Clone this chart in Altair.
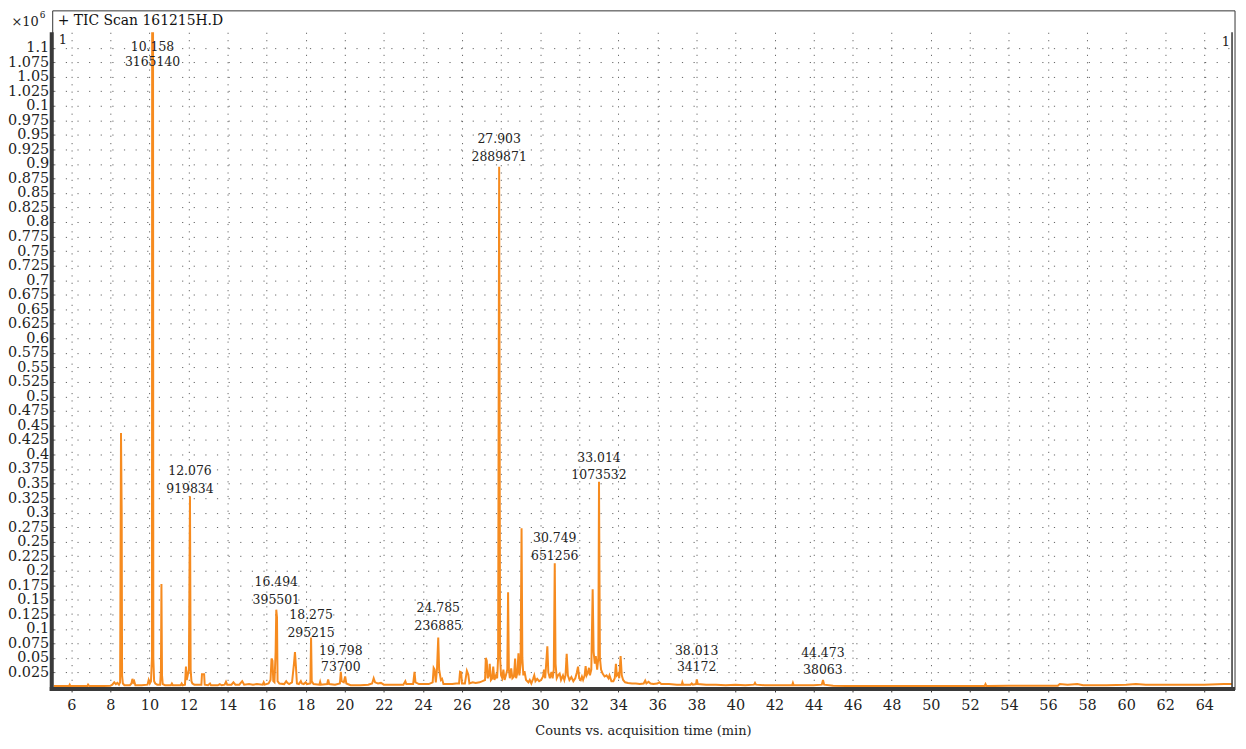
import altair as alt
import pandas as pd

# ---- chromatogram trace (acquisition time in min, counts in x10^6) ----
times = [5.10, 5.50, 5.88, 5.92, 5.96, 6.30, 6.82, 6.86, 6.92, 7.50, 8.00, 8.10, 8.20, 8.28, 8.36, 8.44,
         8.50, 8.545, 8.58, 8.60, 8.64, 8.72, 9.00, 9.08, 9.13, 9.18, 9.22, 9.28, 9.60, 9.90, 9.96, 10.02,
         10.08, 10.13, 10.158, 10.20, 10.24, 10.30, 10.40, 10.55, 10.59, 10.615, 10.645, 10.68, 10.80,
         11.10, 11.15, 11.20, 11.60, 11.65, 11.70, 11.82, 11.87, 11.91, 11.96, 12.02, 12.076, 12.11, 12.15,
         12.20, 12.30, 12.66, 12.69, 12.80, 12.83, 13.00, 13.10, 13.15, 13.50, 13.60, 13.70, 13.85, 13.92,
         13.98, 14.20, 14.30, 14.40, 14.60, 14.75, 14.85, 15.10, 15.30, 15.50, 15.80, 15.85, 15.90, 16.10,
         16.20, 16.25, 16.30, 16.34, 16.40, 16.46, 16.494, 16.53, 16.56, 16.65, 16.90, 17.00, 17.06, 17.15,
         17.30, 17.40, 17.45, 17.50, 17.55, 17.65, 17.75, 17.80, 17.90, 18.00, 18.06, 18.24, 18.275, 18.31,
         18.40, 18.70, 18.74, 18.78, 19.10, 19.15, 19.20, 19.50, 19.75, 19.798, 19.84, 19.95, 20.02, 20.08,
         20.30, 20.80, 21.20, 21.40, 21.48, 21.55, 21.70, 21.85, 22.00, 22.50, 23.00, 23.10, 23.15, 23.50,
         23.57, 23.62, 23.80, 24.30, 24.50, 24.55, 24.60, 24.66, 24.72, 24.785, 24.83, 24.92, 24.98, 25.05,
         25.50, 25.70, 25.85, 25.90, 25.96, 26.00, 26.15, 26.25, 26.32, 26.38, 26.55, 26.70, 26.90, 27.05,
         27.18, 27.22, 27.27, 27.31, 27.38, 27.42, 27.48, 27.55, 27.60, 27.66, 27.74, 27.80, 27.85, 27.903,
         27.95, 28.00, 28.06, 28.12, 28.18, 28.25, 28.32, 28.36, 28.40, 28.45, 28.52, 28.58, 28.66, 28.72,
         28.77, 28.84, 28.89, 28.94, 29.00, 29.05, 29.09, 29.14, 29.20, 29.28, 29.40, 29.47, 29.55, 29.64,
         29.70, 29.76, 29.85, 29.95, 30.05, 30.15, 30.20, 30.26, 30.33, 30.37, 30.42, 30.50, 30.58, 30.64,
         30.70, 30.749, 30.79, 30.85, 30.92, 31.00, 31.07, 31.17, 31.24, 31.30, 31.36, 31.42, 31.50, 31.60,
         31.70, 31.80, 31.88, 31.94, 32.00, 32.08, 32.14, 32.20, 32.28, 32.33, 32.38, 32.45, 32.50, 32.55,
         32.62, 32.69, 32.74, 32.80, 32.85, 32.92, 32.98, 33.014, 33.06, 33.12, 33.20, 33.30, 33.40, 33.50,
         33.55, 33.65, 33.75, 33.82, 33.88, 33.93, 34.00, 34.05, 34.12, 34.18, 34.25, 34.35, 34.50, 34.70,
         34.90, 35.10, 35.30, 35.38, 35.44, 35.55, 35.65, 35.80, 36.00, 36.10, 36.20, 36.60, 37.00, 37.25,
         37.28, 37.32, 37.70, 37.76, 37.82, 37.98, 38.02, 38.07, 38.50, 39.00, 39.50, 40.00, 40.50, 40.95,
         41.00, 41.05, 41.50, 42.00, 42.90, 42.94, 42.98, 43.50, 44.00, 44.42, 44.48, 44.54, 45.00, 46.00,
         48.00, 50.00, 52.00, 52.75, 52.80, 52.85, 54.00, 56.00, 56.50, 56.60, 57.00, 57.50, 57.80, 59.00,
         60.00, 60.50, 61.00, 61.50, 62.00, 63.00, 64.00, 65.00, 65.42]

counts = [0.0015, 0.0015, 0.0015, 0.004, 0.0015, 0.0015, 0.0015, 0.004, 0.0015, 0.0015, 0.002, 0.004, 0.008, 0.005, 0.007, 0.004,
          0.008, 0.437, 0.300, 0.020, 0.006, 0.003, 0.003, 0.006, 0.014, 0.008, 0.010, 0.003, 0.003, 0.004, 0.012, 0.006,
          0.010, 0.050, 3.165, 0.050, 0.010, 0.006, 0.004, 0.004, 0.030, 0.177, 0.020, 0.005, 0.003,
          0.003, 0.006, 0.003, 0.003, 0.006, 0.003, 0.004, 0.035, 0.012, 0.020, 0.030, 0.328, 0.030, 0.010,
          0.006, 0.004, 0.004, 0.022, 0.022, 0.004, 0.003, 0.006, 0.003, 0.003, 0.005, 0.003, 0.004, 0.009,
          0.004, 0.004, 0.008, 0.004, 0.004, 0.010, 0.004, 0.005, 0.004, 0.005, 0.004, 0.008, 0.004, 0.006,
          0.012, 0.049, 0.045, 0.010, 0.008, 0.060, 0.133, 0.120, 0.010, 0.006, 0.005, 0.010, 0.007, 0.005,
          0.008, 0.040, 0.060, 0.035, 0.006, 0.005, 0.010, 0.006, 0.005, 0.008, 0.005, 0.006, 0.085, 0.010,
          0.005, 0.004, 0.009, 0.004, 0.005, 0.013, 0.005, 0.004, 0.006, 0.026, 0.010, 0.008, 0.018, 0.006,
          0.003, 0.003, 0.004, 0.006, 0.015, 0.008, 0.006, 0.007, 0.004, 0.004, 0.004, 0.010, 0.005, 0.005,
          0.026, 0.008, 0.005, 0.005, 0.008, 0.033, 0.030, 0.008, 0.030, 0.085, 0.030, 0.012, 0.014, 0.005,
          0.005, 0.006, 0.006, 0.026, 0.025, 0.006, 0.006, 0.028, 0.022, 0.006, 0.008, 0.007, 0.008, 0.010,
          0.012, 0.050, 0.045, 0.015, 0.020, 0.040, 0.012, 0.015, 0.035, 0.012, 0.020, 0.015, 0.050, 0.895,
          0.050, 0.020, 0.015, 0.030, 0.012, 0.020, 0.030, 0.163, 0.030, 0.015, 0.032, 0.015, 0.018, 0.049,
          0.015, 0.025, 0.058, 0.020, 0.040, 0.273, 0.050, 0.020, 0.027, 0.012, 0.008, 0.012, 0.006, 0.014,
          0.020, 0.010, 0.014, 0.010, 0.012, 0.018, 0.030, 0.015, 0.050, 0.070, 0.025, 0.015, 0.026, 0.015,
          0.030, 0.213, 0.040, 0.015, 0.020, 0.023, 0.012, 0.020, 0.012, 0.020, 0.057, 0.020, 0.012, 0.017,
          0.010, 0.015, 0.025, 0.035, 0.015, 0.012, 0.018, 0.012, 0.020, 0.036, 0.020, 0.025, 0.033, 0.020,
          0.030, 0.168, 0.060, 0.040, 0.053, 0.030, 0.050, 0.353, 0.050, 0.030, 0.023, 0.018, 0.020, 0.015,
          0.020, 0.010, 0.010, 0.015, 0.040, 0.020, 0.023, 0.015, 0.053, 0.020, 0.012, 0.008, 0.007, 0.006,
          0.006, 0.005, 0.006, 0.011, 0.006, 0.009, 0.006, 0.005, 0.006, 0.008, 0.005, 0.005, 0.004, 0.004,
          0.008, 0.004, 0.004, 0.006, 0.004, 0.005, 0.013, 0.005, 0.004, 0.004, 0.003, 0.004, 0.003, 0.004,
          0.007, 0.004, 0.003, 0.003, 0.003, 0.007, 0.003, 0.003, 0.003, 0.004, 0.012, 0.004, 0.002, 0.0015,
          0.0015, 0.0015, 0.0015, 0.0015, 0.005, 0.0015, 0.002, 0.002, 0.002, 0.005, 0.004, 0.005, 0.003, 0.003,
          0.004, 0.005, 0.004, 0.004, 0.004, 0.004, 0.004, 0.005, 0.005]

# ---- peak annotations ----
peak_rt = [10.158, 12.076, 16.494, 18.275, 19.798, 24.785, 27.903, 30.749, 33.014, 38.013, 44.473]
peak_rt_text = ["10.158", "12.076", "16.494", "18.275", "19.798", "24.785", "27.903", "30.749", "33.014", "38.013", "44.473"]
peak_count_text = ["3165140", "919834", "395501", "295215", "73700", "236885", "2889871", "651256", "1073532", "34172", "38063"]
label_y_top = [1.1015, 0.372, 0.180, 0.124, 0.0625, 0.136, 0.943, 0.257, 0.394, 0.0626, 0.059]
label_y_bottom = [1.076, 0.341, 0.150, 0.093, 0.034, 0.105, 0.912, 0.226, 0.365, 0.034, 0.029]

# ---- axes ----
x_ticks = [6, 8, 10, 12, 14, 16, 18, 20, 22, 24, 26, 28, 30, 32, 34, 36, 38, 40, 42, 44, 46, 48, 50, 52,
           54, 56, 58, 60, 62, 64]
y_ticks = [0.025, 0.05, 0.075, 0.1, 0.125, 0.15, 0.175, 0.2, 0.225, 0.25, 0.275, 0.3, 0.325, 0.35, 0.375,
           0.4, 0.425, 0.45, 0.475, 0.5, 0.525, 0.55, 0.575, 0.6, 0.625, 0.65, 0.675, 0.7, 0.725, 0.75,
           0.775, 0.8, 0.825, 0.85, 0.875, 0.9, 0.925, 0.95, 0.975, 1.0, 1.025, 1.05, 1.075, 1.1]
y_tick_labels = ["0.025", "0.05", "0.075", "0.1", "0.125", "0.15", "0.175", "0.2", "0.225", "0.25", "0.275",
                 "0.3", "0.325", "0.35", "0.375", "0.4", "0.425", "0.45", "0.475", "0.5", "0.525", "0.55",
                 "0.575", "0.6", "0.625", "0.65", "0.675", "0.7", "0.725", "0.75", "0.775", "0.8", "0.825",
                 "0.85", "0.875", "0.9", "0.925", "0.95", "0.975", "0.1", "1.025", "1.05", "1.075", "1.1"]

x_title = "Counts vs. acquisition time (min)"
panel_title = "+ TIC Scan 161215H.D"
y_unit_base = "×10"
y_unit_exp = "6"

FONT = "DejaVu Serif"
W, H = 1186, 659
ORANGE = "#F68B1F"

trace = pd.DataFrame({"t": times, "v": counts})
ann = pd.DataFrame({"t": peak_rt, "rt": peak_rt_text, "cnt": peak_count_text,
                    "y1": label_y_top, "y2": label_y_bottom})

xs = alt.Scale(domain=[5.1, 65.42], nice=False, zero=False)
ys = alt.Scale(domain=[0, 1.1265], nice=False, zero=False)

label_map = "{" + ",".join("'%s':'%s'" % (format(v, ".3f"), s) for v, s in zip(y_ticks, y_tick_labels)) + "}"
y_label_expr = label_map + "[format(datum.value, '.3f')]"

x_axis = alt.Axis(values=x_ticks, labelFont=FONT, labelFontSize=14.5, labelColor="#222",
                  tickColor="#333", tickSize=5, labelPadding=7, domain=False, labelOverlap=False,
                  grid=True, gridDash=[1.2, 6.2], gridColor="#666", gridWidth=1,
                  title=x_title, titleFont=FONT, titleFontSize=13, titleFontWeight="normal",
                  titleColor="#222", titlePadding=12)
y_axis = alt.Axis(values=y_ticks, labelExpr=y_label_expr, labelFont=FONT, labelFontSize=14.5,
                  labelColor="#222", tickColor="#333", tickSize=4, labelPadding=1, domain=False,
                  labelOverlap=False, labelBound=False, labelFlush=False,
                  grid=True, gridDash=[1.2, 10.5], gridColor="#666", gridWidth=1, title=None)

line = alt.Chart(trace).mark_line(color=ORANGE, strokeWidth=2, clip=True).encode(
    x=alt.X("t:Q", scale=xs, axis=x_axis),
    y=alt.Y("v:Q", scale=ys, axis=y_axis),
)

txt1 = alt.Chart(ann).mark_text(font=FONT, fontSize=12.5, color="#222", baseline="middle").encode(
    x=alt.X("t:Q", scale=xs, axis=x_axis), y=alt.Y("y1:Q", scale=ys, axis=y_axis), text="rt:N")
txt2 = alt.Chart(ann).mark_text(font=FONT, fontSize=12.5, color="#222", baseline="middle").encode(
    x=alt.X("t:Q", scale=xs, axis=x_axis), y=alt.Y("y2:Q", scale=ys, axis=y_axis), text="cnt:N")

outer = alt.Chart().mark_rect(fill=None, stroke="#333", strokeWidth=1).encode(
    x=alt.value(-1), x2=alt.value(W + 3), y=alt.value(-21.5), y2=alt.value(H + 3))
left_bar = alt.Chart().mark_rect(fill="#3a3a3a").encode(
    x=alt.value(-4), x2=alt.value(0), y=alt.value(0), y2=alt.value(H + 4))
bottom_bar = alt.Chart().mark_rect(fill="#3a3a3a").encode(
    x=alt.value(-4), x2=alt.value(W + 3), y=alt.value(H), y2=alt.value(H + 4))
right_rule = alt.Chart().mark_rule(color="#333", strokeWidth=1.5).encode(
    x=alt.value(W), y=alt.value(0), y2=alt.value(H))

t_panel = alt.Chart().mark_text(font=FONT, fontSize=14, color="#111", align="left", baseline="middle").encode(
    x=alt.value(4), y=alt.value(-11), text=alt.value(panel_title))
t_unit = alt.Chart().mark_text(font=FONT, fontSize=13, color="#222", align="right", baseline="middle").encode(
    x=alt.value(-15), y=alt.value(-10), text=alt.value(y_unit_base))
t_unit_exp = alt.Chart().mark_text(font=FONT, fontSize=9, color="#222", align="left", baseline="middle").encode(
    x=alt.value(-14), y=alt.value(-17), text=alt.value(y_unit_exp))
t_one_l = alt.Chart().mark_text(font=FONT, fontSize=13, color="#222", align="left", baseline="middle").encode(
    x=alt.value(5), y=alt.value(8), text=alt.value("1"))
t_one_r = alt.Chart().mark_text(font=FONT, fontSize=13, color="#222", align="right", baseline="middle").encode(
    x=alt.value(W - 2), y=alt.value(10), text=alt.value("1"))

chart = alt.layer(line, txt1, txt2, outer, left_bar, bottom_bar, right_rule,
                  t_panel, t_unit, t_unit_exp, t_one_l, t_one_r).properties(
    width=W, height=H,
    autosize=alt.AutoSizeParams(type="none"),
    padding={"left": 46, "top": 22, "right": 6, "bottom": 54},
    background="white",
).configure_view(stroke=None).configure_axisY(labelOverlap=False).configure_axisX(labelOverlap=False)

chart.save("out.html", embed_options={"renderer": "svg", "actions": False})
